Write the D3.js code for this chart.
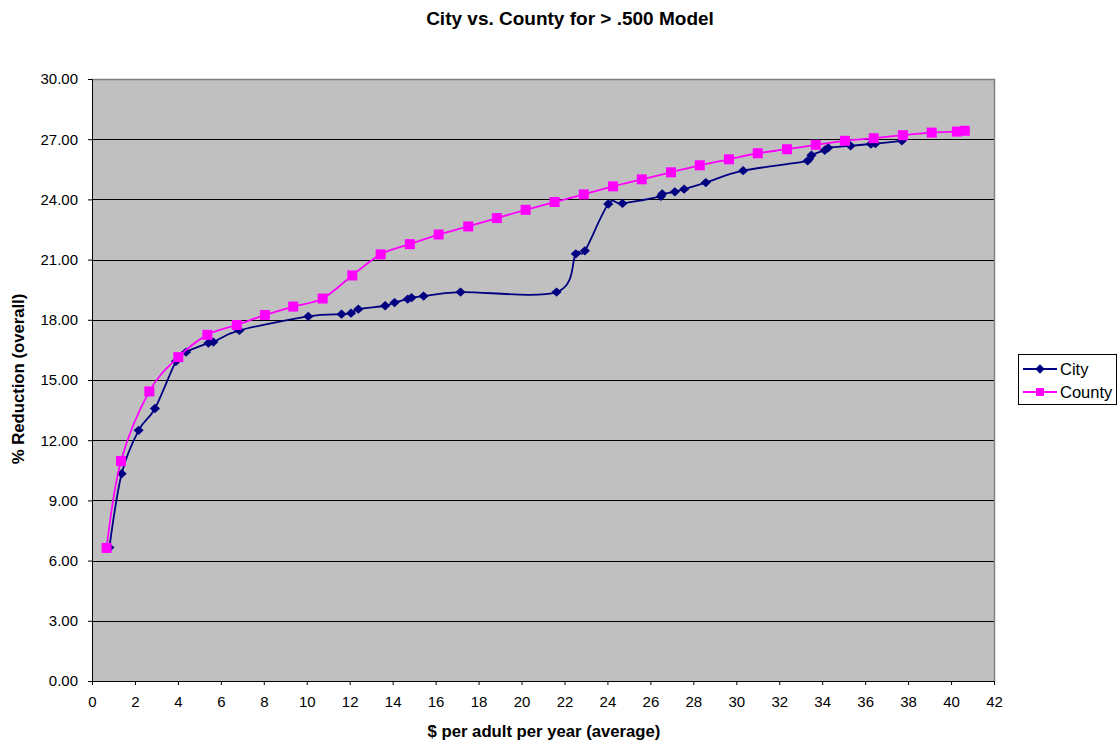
<!DOCTYPE html>
<html>
<head>
<meta charset="utf-8">
<script src="https://cdn.jsdelivr.net/npm/d3@7"></script>
<style>
  body { margin: 0; background: #fff; }
  text { font-family: "Liberation Sans", Arial, sans-serif; }
</style>
</head>
<body>
<div class="grafico"></div>
<script>
var margin = { top: 79, right: 125, bottom: 62, left: 92 },
  width = 1119,
  height = 743;

// City series
const cityX = [0.81, 1.38, 2.17, 2.93, 3.91, 4.38, 5.42, 5.65, 6.86, 10.07, 11.62, 12.06, 12.4, 13.65, 14.09, 14.7, 14.88, 15.44, 17.16, 21.63, 22.53, 22.95, 24.04, 24.7, 26.49, 26.55, 27.14, 27.57, 28.58, 30.32, 33.32, 33.5, 34.12, 34.28, 35.32, 36.27, 36.48, 37.71];
const cityY = [6.65, 10.33, 12.49, 13.58, 15.93, 16.39, 16.84, 16.89, 17.47, 18.17, 18.28, 18.33, 18.53, 18.7, 18.86, 19.03, 19.1, 19.18, 19.38, 19.38, 21.29, 21.44, 23.77, 23.8, 24.15, 24.27, 24.38, 24.51, 24.84, 25.43, 25.92, 26.2, 26.45, 26.57, 26.67, 26.76, 26.78, 26.92];

// County series
const countyX = [0.68, 1.35, 2.67, 4.02, 5.37, 6.74, 8.05, 9.37, 10.74, 12.12, 13.44, 14.8, 16.14, 17.52, 18.85, 20.19, 21.54, 22.9, 24.26, 25.6, 26.96, 28.3, 29.66, 31.0, 32.36, 33.7, 35.06, 36.4, 37.76, 39.1, 40.27, 40.64];
const countyY = [6.63, 10.96, 14.43, 16.14, 17.25, 17.74, 18.24, 18.66, 19.06, 20.21, 21.26, 21.77, 22.25, 22.65, 23.07, 23.48, 23.87, 24.25, 24.65, 25.0, 25.35, 25.7, 26.0, 26.3, 26.5, 26.72, 26.92, 27.05, 27.2, 27.33, 27.38, 27.42];

const xTicks = d3.range(0, 43, 2);
const yTicks = d3.range(0, 31, 3);

const title = "City vs. County for > .500 Model";
const xTitle = "$ per adult per year (average)";
const yTitle = "% Reduction (overall)";

let svg = d3.select(".grafico")
  .append("svg")
  .attr("width", width)
  .attr("height", height);

const x = d3.scaleLinear().domain([0, 42]).range([margin.left, 994]);
const y = d3.scaleLinear().domain([0, 30]).range([height - margin.bottom, margin.top]);

const x0 = x(0), x1 = x(42), y0 = y(0), y1 = y(30);

// plot background
svg.append("rect")
  .attr("x", x0).attr("y", y1)
  .attr("width", x1 - x0).attr("height", y0 - y1)
  .attr("fill", "#c0c0c0");

// gridlines
svg.append("g")
  .selectAll("line")
  .data(yTicks.filter(d => d > 0 && d < 30))
  .enter().append("line")
  .attr("x1", x0).attr("x2", x1)
  .attr("y1", d => Math.round(y(d)) + 0.5)
  .attr("y2", d => Math.round(y(d)) + 0.5)
  .attr("stroke", "#000")
  .attr("stroke-width", 1);

// top and right border
svg.append("path")
  .attr("d", `M${x0},${Math.round(y1) + 0.5}H${Math.round(x1) + 0.5}V${y0}`)
  .attr("fill", "none")
  .attr("stroke", "#808080")
  .attr("stroke-width", 1.5);

// axes
svg.append("g")
  .attr("class", "x axis")
  .attr("transform", "translate(0," + Math.round(y0) + ")")
  .call(d3.axisBottom(x).tickValues(xTicks).tickSize(4).tickPadding(11).tickFormat(d3.format("d")))
  .call(g => g.selectAll("text").attr("font-size", 15).attr("fill", "#000").style("font-family", "Liberation Sans, Arial"));

svg.append("g")
  .attr("class", "y axis")
  .attr("transform", "translate(" + Math.round(x0) + ",0)")
  .call(d3.axisLeft(y).tickValues(yTicks).tickSize(4).tickPadding(10).tickFormat(d3.format(".2f")))
  .call(g => g.selectAll("text").attr("font-size", 15).attr("fill", "#000").style("font-family", "Liberation Sans, Arial"));

svg.selectAll(".axis path, .axis line").attr("stroke", "#000");

// lines
const line = d3.line()
  .x(d => x(d[0]))
  .y(d => y(d[1]))
  .curve(d3.curveCardinal.tension(0));

const cityData = cityX.map((v, i) => [v, cityY[i]]);
const countyData = countyX.map((v, i) => [v, countyY[i]]);

svg.append("path")
  .datum(cityData)
  .attr("d", line)
  .attr("fill", "none")
  .attr("stroke", "#000080")
  .attr("stroke-width", 1.8);

const diamond = d3.symbol().type(d3.symbolDiamond2).size(55);
svg.append("g")
  .selectAll("path")
  .data(cityData)
  .enter().append("path")
  .attr("d", diamond)
  .attr("transform", d => "translate(" + x(d[0]) + "," + y(d[1]) + ") scale(1.1,1)")
  .attr("fill", "#000080");

svg.append("path")
  .datum(countyData)
  .attr("d", line)
  .attr("fill", "none")
  .attr("stroke", "#ff00ff")
  .attr("stroke-width", 1.8);

svg.append("g")
  .selectAll("rect")
  .data(countyData)
  .enter().append("rect")
  .attr("x", d => x(d[0]) - 5)
  .attr("y", d => y(d[1]) - 5)
  .attr("width", 10)
  .attr("height", 10)
  .attr("fill", "#ff00ff");

// titles
svg.append("text")
  .attr("x", 570).attr("y", 25)
  .attr("text-anchor", "middle")
  .attr("font-size", 19)
  .attr("font-weight", "bold")
  .text(title);

svg.append("text")
  .attr("x", (x0 + x1) / 2 + 1).attr("y", 737)
  .attr("text-anchor", "middle")
  .attr("font-size", 16.7)
  .attr("font-weight", "bold")
  .text(xTitle);

svg.append("text")
  .attr("transform", "translate(24," + ((y0 + y1) / 2 - 1) + ") rotate(-90)")
  .attr("text-anchor", "middle")
  .attr("font-size", 16.7)
  .attr("font-weight", "bold")
  .text(yTitle);

// legend
const legendItems = [
  { name: "City", color: "#000080", shape: "diamond" },
  { name: "County", color: "#ff00ff", shape: "square" }
];
svg.append("rect")
  .attr("x", 1018.5).attr("y", 354.5)
  .attr("width", 98).attr("height", 50)
  .attr("fill", "#fff")
  .attr("stroke", "#000");

var legend = svg.append("g")
  .selectAll("g")
  .data(legendItems)
  .enter()
  .append("g")
  .attr("transform", (d, i) => "translate(1023," + (369 + i * 23) + ")");

legend.append("line")
  .attr("x1", 0).attr("x2", 34)
  .attr("stroke", d => d.color)
  .attr("stroke-width", 1.8);

legend.append("path")
  .attr("d", d => d.shape === "diamond" ? diamond() : d3.symbol().type(d3.symbolSquare).size(64)())
  .attr("transform", "translate(17,0)")
  .attr("fill", d => d.color);

legend.append("text")
  .attr("x", 37)
  .attr("y", 6)
  .attr("font-size", 16.5)
  .text(d => d.name);
</script>
</body>
</html>
